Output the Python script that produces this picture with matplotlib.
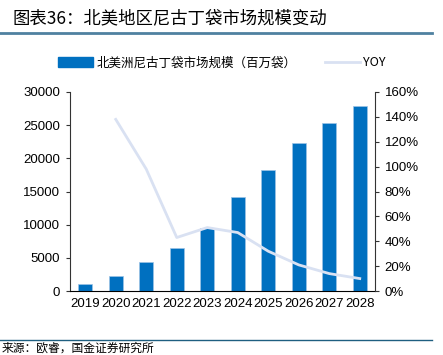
import matplotlib.pyplot as plt
from matplotlib.lines import Line2D
from matplotlib.patches import Patch
from matplotlib.ticker import FuncFormatter

plt.rcParams['font.family'] = ['Liberation Sans', 'Noto Sans CJK SC', 'DejaVu Sans']

years = ['2019', '2020', '2021', '2022', '2023', '2024', '2025', '2026', '2027', '2028']
market_size = [1000, 2250, 4400, 6450, 9500, 14150, 18250, 22300, 25300, 27850]
yoy = [None, 1.38, 0.98, 0.43, 0.51, 0.47, 0.32, 0.21, 0.14, 0.10]

title = '图表36：北美地区尼古丁袋市场规模变动'
bar_label = '北美洲尼古丁袋市场规模（百万袋）'
line_label = 'YOY'
source = '来源：欧睿，国金证券研究所'

W, H = 443, 355
fig = plt.figure(figsize=(W / 100, H / 100), dpi=100)

# header / footer decorations
fig.text(12 / W, 1 - 18 / H, title, fontsize=12.5, style='italic',
         family=['Noto Sans CJK SC', 'DejaVu Sans'], va='center', ha='left')
fig.add_artist(Line2D([0, 432 / W], [1 - 33 / H] * 2, color='#4f81a0', lw=2))
fig.add_artist(Line2D([0, 432 / W], [1 - 340 / H] * 2, color='#1f5f80', lw=1))
fig.text(2 / W, 1 - 348 / H, source, fontsize=8.5,
         family=['Noto Sans CJK SC', 'DejaVu Sans'], va='center', ha='left')

ax = fig.add_axes([70 / W, 1 - 291 / H, 305 / W, 199 / H])
x = list(range(len(years)))
ax.bar(x, market_size, width=0.45, color='#0070C0', edgecolor='#9DC3E6', linewidth=0.5, zorder=2)
ax.set_xlim(-0.5, len(years) - 0.5)
ax.set_ylim(0, 30000)
ax.set_yticks(range(0, 30001, 5000))
ax.set_xticks(x)
ax.set_xticklabels(years)
ax.tick_params(axis='x', length=0, labelsize=9.5, pad=5)
ax.tick_params(axis='y', length=3, labelsize=9.5, pad=4, color='#333333')
for s in ['top', 'right']:
    ax.spines[s].set_visible(False)
ax.spines['left'].set_color('#333333')
ax.spines['bottom'].set_color('black')

ax2 = ax.twinx()
ax2.plot(x[1:], yoy[1:], color='#D9E1F2', lw=2, zorder=3)
ax2.set_ylim(0, 1.6)
ax2.set_yticks([i * 0.2 for i in range(9)])
ax2.yaxis.set_major_formatter(FuncFormatter(lambda v, p: f'{v * 100:.0f}%'))
ax2.tick_params(axis='y', length=3, labelsize=9.5, pad=4, color='#333333')
for s in ['top', 'left', 'bottom']:
    ax2.spines[s].set_visible(False)
ax2.spines['right'].set_color('#333333')

handles = [Patch(color='#0070C0'), Line2D([0], [0], color='#D9E1F2', lw=2)]
fig.legend(handles, [bar_label, line_label], loc='center', bbox_to_anchor=(222 / W, 1 - 63 / H),
           ncol=2, frameon=False, handlelength=2.8, handleheight=0.8,
           columnspacing=2.2, handletextpad=0.3,
           prop={'family': ['Noto Sans CJK SC', 'DejaVu Sans'], 'size': 9})

fig.savefig('out.png', dpi=100)
